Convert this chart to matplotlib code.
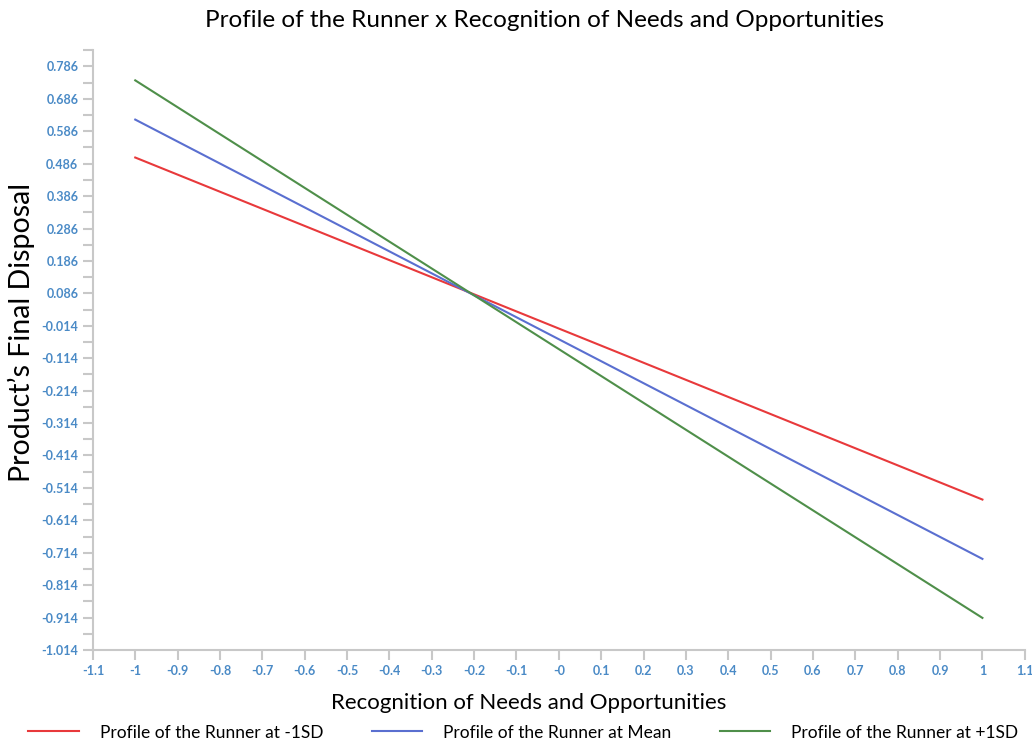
import numpy as np
import matplotlib
matplotlib.use("Agg")
import matplotlib.pyplot as plt
from matplotlib.ticker import FixedLocator

plt.rcParams["font.family"] = ["Lato", "DejaVu Sans"]

# data
x_ends = [-1, 1]
low_sd = [0.505, -0.550]
mean_sd = [0.622, -0.733]
high_sd = [0.743, -0.915]
series_names = ["Profile of the Runner at -1SD", "Profile of the Runner at Mean",
                "Profile of the Runner at +1SD"]
series_colors = ["#e8393b", "#5a6fd0", "#4f8f4a"]

x_ticks = [round(-1.1 + 0.1 * i, 1) for i in range(23)]
x_labels = ["-0" if abs(v) < 1e-9 else f"{v:g}" for v in x_ticks]
y_ticks = [round(-1.014 + 0.1 * i, 3) for i in range(19)]
y_labels = [f"{v:.3f}" for v in y_ticks]

fig = plt.figure(figsize=(10.32, 7.46), dpi=100)
ax = fig.add_axes([0.090, 0.1287, 0.903, 0.804])

for vals, name, c in zip([low_sd, mean_sd, high_sd], series_names, series_colors):
    ax.plot(x_ends, vals, color=c, lw=1.5, label=name)

ax.set_xlim(-1.1, 1.1)
ax.set_ylim(-1.014, 0.836)
ax.xaxis.set_major_locator(FixedLocator(x_ticks))
ax.set_xticklabels(x_labels)
ax.yaxis.set_major_locator(FixedLocator(y_ticks))
ax.set_yticklabels(y_labels)
ax.yaxis.set_minor_locator(FixedLocator([v + 0.05 for v in y_ticks]))

for s in ["top", "right"]:
    ax.spines[s].set_visible(False)
for s in ["left", "bottom"]:
    ax.spines[s].set_color("#c8c8c8")
    ax.spines[s].set_linewidth(1.5)
ax.tick_params(which="both", color="#c8c8c8", width=1.5, length=7, labelcolor="#4a8ac6",
               labelsize=9)
for lab in ax.get_xticklabels() + ax.get_yticklabels():
    lab.set_fontweight("bold")

fig.text(0.528, 0.972, "Profile of the Runner x Recognition of Needs and Opportunities",
         ha="center", va="center", fontsize=17.5)
fig.text(0.512, 0.057, "Recognition of Needs and Opportunities",
         ha="center", va="center", fontsize=16)
fig.text(0.021, 0.555, "Product\u2019s Final Disposal", rotation=90,
         ha="center", va="center", fontsize=20.5)

fig.legend(loc="center", bbox_to_anchor=(0.507, 0.018), ncol=3, frameon=False, fontsize=12.5,
           handlelength=2.9, columnspacing=2.8, handletextpad=1.2)

fig.savefig("out.png", dpi=100)
